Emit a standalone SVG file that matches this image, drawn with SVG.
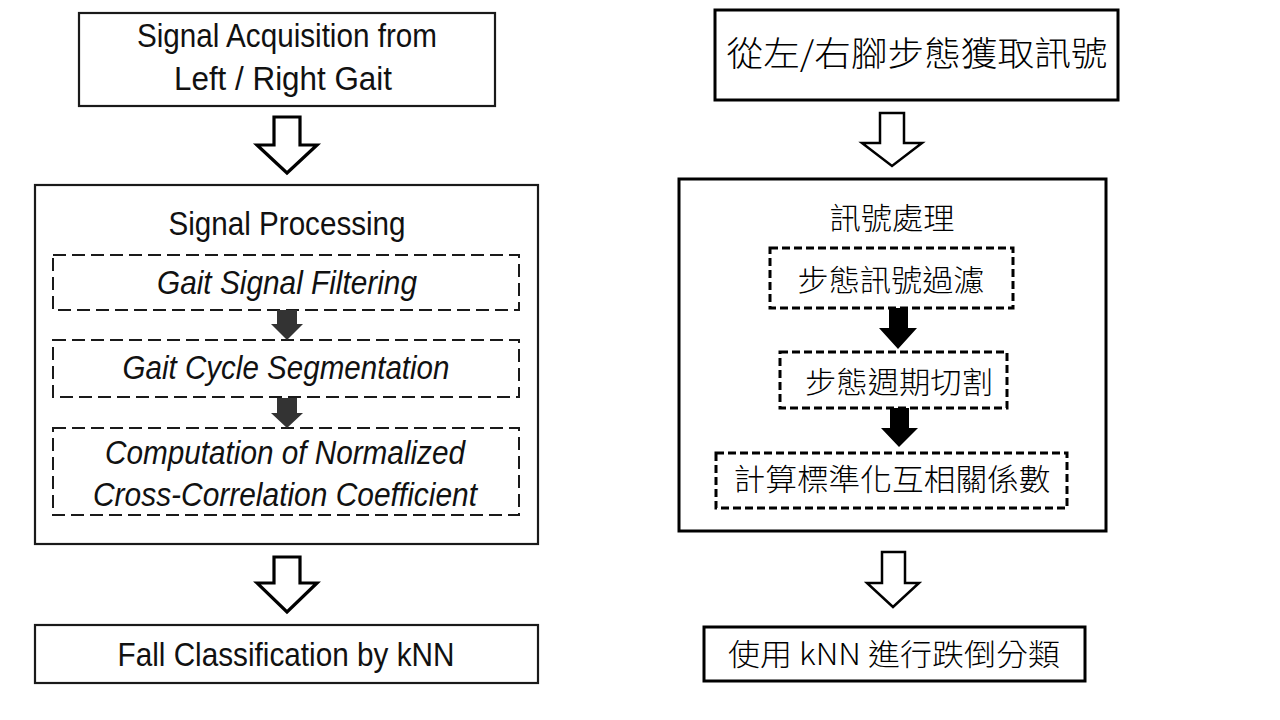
<svg xmlns="http://www.w3.org/2000/svg" width="1280" height="720" viewBox="0 0 1280 720">
<style>
.lbox{fill:#fff;stroke:#1a1a1a;stroke-width:2.2}
.ldash{fill:none;stroke:#1a1a1a;stroke-width:2;stroke-dasharray:13 6}
.rbox{fill:#fff;stroke:#000;stroke-width:3}
.rdash{fill:none;stroke:#000;stroke-width:3;stroke-dasharray:8 4}
.hollow{fill:#fff;stroke:#000;stroke-width:3.2;stroke-linejoin:miter}
.hollowr{fill:#fff;stroke:#000;stroke-width:2.5;stroke-linejoin:miter}
.solidl{fill:#333;stroke:none}
.solidr{fill:#000;stroke:none}
.en{font-family:"Liberation Sans",Arial,sans-serif;font-size:34px;fill:#111;text-anchor:middle}
.it{font-style:italic}
.zh{font-family:"Noto Sans CJK TC","Noto Sans CJK SC",sans-serif;font-weight:300;fill:#000;text-anchor:middle}
</style>
<rect width="1280" height="720" fill="#fff"/>

<g id="left-acquisition">
<rect class="lbox" x="79" y="13" width="416" height="93"/>
<text class="en" x="287" y="47" textLength="300" lengthAdjust="spacingAndGlyphs">Signal Acquisition from</text>
<text class="en" x="283" y="90" textLength="218" lengthAdjust="spacingAndGlyphs">Left / Right Gait</text>
</g>

<g id="left-processing">
<rect class="lbox" x="35" y="185" width="503" height="359"/>
<text class="en" x="287" y="235" textLength="237" lengthAdjust="spacingAndGlyphs">Signal Processing</text>
</g>

<g id="left-filtering">
<rect class="ldash" x="53" y="255" width="466" height="55"/>
<text class="en it" x="287" y="294" textLength="260" lengthAdjust="spacingAndGlyphs">Gait Signal Filtering</text>
</g>

<g id="left-segmentation">
<rect class="ldash" x="53" y="340" width="466" height="57"/>
<text class="en it" x="286" y="379" textLength="327" lengthAdjust="spacingAndGlyphs">Gait Cycle Segmentation</text>
</g>

<g id="left-computation">
<rect class="ldash" x="53" y="428" width="466" height="87"/>
<text class="en it" x="285" y="464" textLength="360" lengthAdjust="spacingAndGlyphs">Computation of Normalized</text>
<text class="en it" x="285" y="506" textLength="384" lengthAdjust="spacingAndGlyphs">Cross-Correlation Coefficient</text>
</g>

<g id="left-classification">
<rect class="lbox" x="35" y="625" width="503" height="58"/>
<text class="en" x="286" y="666" textLength="337" lengthAdjust="spacingAndGlyphs">Fall Classification by kNN</text>
</g>

<g id="right-acquisition">
<rect class="rbox" x="715" y="10" width="403" height="90"/>
<text class="zh" x="917" y="66" font-size="34" textLength="381" lengthAdjust="spacingAndGlyphs">從左/右腳步態獲取訊號</text>
</g>

<g id="right-processing">
<rect class="rbox" x="679" y="179" width="427" height="352"/>
<text class="zh" x="892" y="229" font-size="30" textLength="125" lengthAdjust="spacingAndGlyphs">訊號處理</text>
</g>

<g id="right-filtering">
<rect class="rdash" x="770" y="248" width="243" height="60"/>
<text class="zh" x="891" y="291" font-size="30" textLength="187" lengthAdjust="spacingAndGlyphs">步態訊號過濾</text>
</g>

<g id="right-segmentation">
<rect class="rdash" x="780" y="352" width="227" height="56"/>
<text class="zh" x="899" y="393" font-size="30" textLength="188" lengthAdjust="spacingAndGlyphs">步態週期切割</text>
</g>

<g id="right-computation">
<rect class="rdash" x="716" y="453" width="351" height="55"/>
<text class="zh" x="892" y="490" font-size="30" textLength="317" lengthAdjust="spacingAndGlyphs">計算標準化互相關係數</text>
</g>

<g id="right-classification">
<rect class="rbox" x="704" y="627" width="381" height="54"/>
<text class="zh" x="894" y="665" font-size="30" textLength="332" lengthAdjust="spacingAndGlyphs">使用 kNN 進行跌倒分類</text>
</g>

<g id="connectors">
<polygon class="hollow" points="274,117 300,117 300,145 317,145 287,173 257,145 274,145"/>
<polygon class="hollow" points="274,557 300,557 300,583 317,583 287,612 257,583 274,583"/>
<polygon class="solidl" points="277,310 297,310 297,324 303,324 287,340 271,324 277,324"/>
<polygon class="solidl" points="277,398 297,398 297,413 303,413 287,428 271,413 277,413"/>
<polygon class="hollowr" points="880,113 904,113 904,143 922,143 892,166 862,143 880,143"/>
<polygon class="hollowr" points="882,552 905,552 905,583 919,583 893,607 867,583 882,583"/>
<polygon class="solidr" points="889,308 908,308 908,328 917,328 898,349 879,328 889,328"/>
<polygon class="solidr" points="890,408 909,408 909,428 918,428 899,447 881,428 890,428"/>
</g>
</svg>
